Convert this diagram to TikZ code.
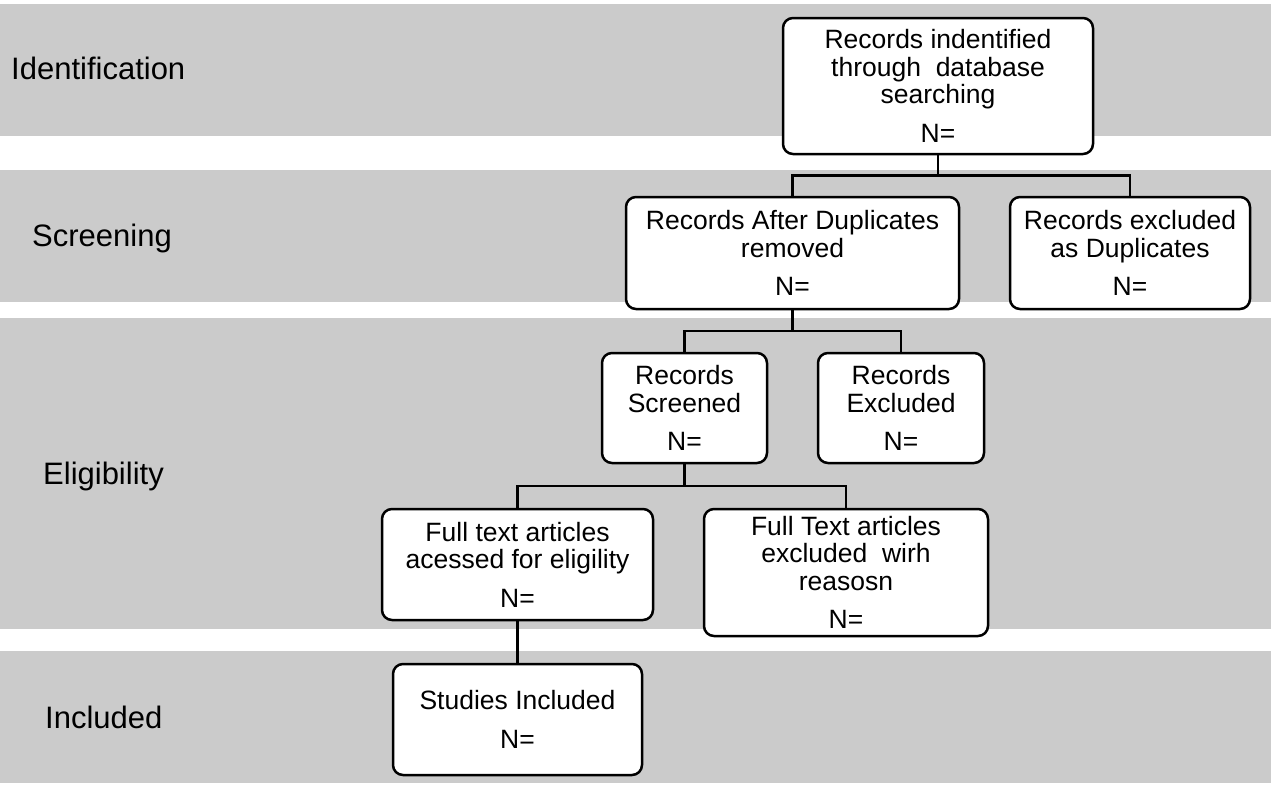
\documentclass[tikz,border=0pt]{standalone}
\usepackage{fontspec}
\setmainfont{Liberation Sans}
\usetikzlibrary{calc}
\definecolor{bandgray}{RGB}{203,203,203}
\newcommand{\boxfont}{\fontsize{26.5}{27.5}\selectfont}
\newcommand{\labfont}{\fontsize{31}{34}\selectfont}
\tikzset{
  band/.style={fill=bandgray, draw=none},
  stagelab/.style={font=\labfont, anchor=base west, inner sep=0pt},
  flowbox/.style={draw=black, line width=2.5pt, rounded corners=10pt, fill=white,
    align=center, inner sep=0pt, font=\boxfont},
  conn/.style={draw=black, line width=2.5pt}
}
\begin{document}
\begin{tikzpicture}[x=1pt,y=-1pt]
\useasboundingbox (0,0) rectangle (1271,787);
\fill[white] (0,0) rectangle (1271,787);
% bands
\path[band] (0,4) rectangle (1271,136);
\path[band] (0,170) rectangle (1271,302);
\path[band] (0,318) rectangle (1271,629);
\path[band] (0,651) rectangle (1271,783);
% stage labels
\node[stagelab] (lid) at (11,79) {Identification};
\node[stagelab] (lsc) at (32,246) {Screening};
\node[stagelab] (lel) at (43,484) {Eligibility};
\node[stagelab] (lin) at (45,728) {Included};
% boxes (positions)
\coordinate (p1) at (938,86);
\coordinate (p2) at (792.5,253);
\coordinate (p3) at (1130,253);
\coordinate (p4) at (684.5,408);
\coordinate (p5) at (901,408);
\coordinate (p6) at (517.5,564.5);
\coordinate (p7) at (846,572.5);
\coordinate (p8) at (517.5,719.5);
\node[flowbox, minimum width=310pt, minimum height=136pt] (b1) at (p1)
  {Records indentified\\through\ \ database\\searching\\[11pt]N=};
\node[flowbox, minimum width=333pt, minimum height=112pt] (b2) at (p2)
  {Records After Duplicates\\removed\\[11pt]N=};
\node[flowbox, minimum width=240pt, minimum height=112pt] (b3) at (p3)
  {Records excluded\\as Duplicates\\[11pt]N=};
\node[flowbox, minimum width=165pt, minimum height=110pt] (b4) at (p4)
  {Records\\Screened\\[11pt]N=};
\node[flowbox, minimum width=166pt, minimum height=110pt] (b5) at (p5)
  {Records\\Excluded\\[11pt]N=};
\node[flowbox, minimum width=271pt, minimum height=111pt] (b6) at (p6)
  {Full text articles\\acessed for eligility\\[11pt]N=};
\node[flowbox, minimum width=284pt, minimum height=127pt] (b7) at (p7)
  {Full Text articles\\excluded\ \ wirh\\reasosn\\[11pt]N=};
\node[flowbox, minimum width=249pt, minimum height=111pt] (b8) at (p8)
  {Studies Included\\[11pt]N=};
% connectors
\coordinate (f1) at ($(b1.south)!0.5!(b2.north)$);
\coordinate (f2) at ($(b2.south)!0.5!(b4.north)$);
\coordinate (f3) at ($(b4.south)!0.5!(b6.north)$);
\draw[conn] (b1.south) -- (b1.south |- f1);
\draw[conn] (b2.north) -- (b2.north |- f1) -- (b3.north |- f1) -- (b3.north);
\draw[conn] (b2.south) -- (b2.south |- f2);
\draw[conn] (b4.north) -- (b4.north |- f2) -- (b5.north |- f2) -- (b5.north);
\draw[conn] (b4.south) -- (b4.south |- f3);
\draw[conn] (b6.north) -- (b6.north |- f3) -- (b7.north |- f3) -- (b7.north);
\draw[conn] (b6.south) -- (b8.north);
\end{tikzpicture}
\end{document}
